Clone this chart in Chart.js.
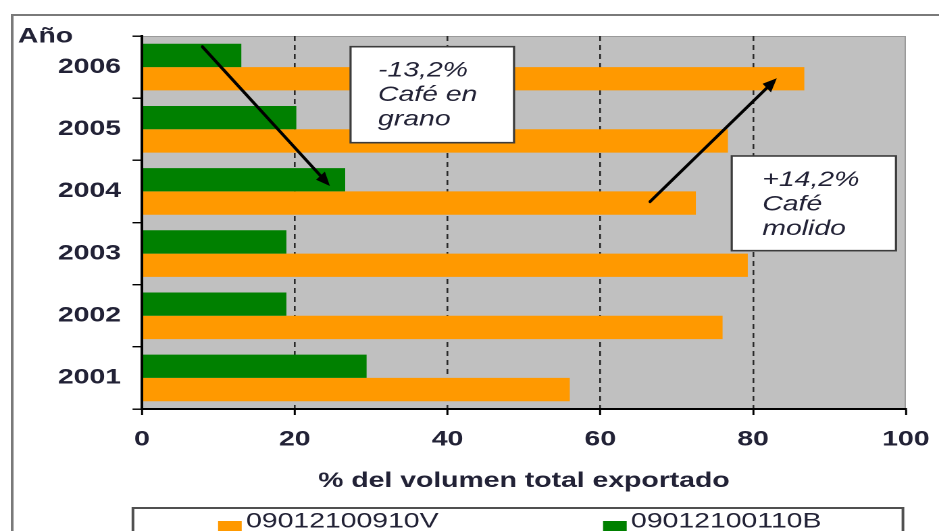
<!DOCTYPE html>
<html>
<head>
<meta charset="utf-8">
<script src="https://cdn.jsdelivr.net/npm/chart.js@4"></script>
<style>
  html, body { margin: 0; padding: 0; background: #ffffff; overflow: hidden; }
  /* the chart is laid out narrower and widened horizontally */
  #wrap { position: absolute; left: 0; top: 0; width: 695px; height: 531px;
          transform: scaleX(1.351079); transform-origin: 0 0; }
</style>
</head>
<body>
<div id="wrap"><canvas id="c"></canvas></div>
<script>
// Categories, top to bottom
const years = ['2006', '2005', '2004', '2003', '2002', '2001'];
// % of total exported volume
const granoShare = [13.0, 20.2, 26.6, 18.9, 18.9, 29.4];   // 09012100110B
const molidoShare = [86.7, 76.7, 72.5, 79.3, 76.0, 56.0];  // 09012100910V
const xTickValues = [0, 20, 40, 60, 80, 100];
const seriesNames = ['09012100910V', '09012100110B'];
const noteLines = [
  ['-13,2%', 'Café en', 'grano'],
  ['+14,2%', 'Café', 'molido']
];
const yAxisTitle = 'Año';
const xAxisTitle = '% del volumen total exportado';

const STRETCH = 939 / 695;
const FONT = '"Liberation Sans", Arial, sans-serif';
const TEXT = '#222236';
const ORANGE = '#ff9900';
const GREEN = '#008000';

// Callout boxes and arrows, in axis units (x: %, y: category index)
const noteBoxes = [
  { x0: 27.3, x1: 48.7, i0: -0.328, i1: 1.216, textX: 30.9 },
  { x0: 77.2, x1: 98.7, i0: 1.430, i1: 2.953, textX: 81.2 }
];
const arrows = [
  { x0: 7.9, i0: -0.328, x1: 24.6, i1: 1.913 },
  { x0: 66.5, i0: 2.165, x1: 83.1, i1: 0.180 }
];

const decor = {
  id: 'decor',
  beforeDraw(chart) {
    const { ctx, chartArea: a } = chart;
    ctx.save();
    ctx.fillStyle = '#ffffff';
    ctx.fillRect(0, 0, chart.width, chart.height);
    ctx.fillStyle = '#c0c0c0';
    ctx.fillRect(a.left, a.top, a.right - a.left, a.bottom - a.top);
    ctx.strokeStyle = '#9a9a9a';
    ctx.lineWidth = 1;
    ctx.beginPath();
    ctx.moveTo(a.left, a.top + 0.5);
    ctx.lineTo(a.right - 0.5, a.top + 0.5);
    ctx.lineTo(a.right - 0.5, a.bottom);
    ctx.stroke();
    // outer frame
    ctx.strokeStyle = '#7a7a7a';
    ctx.lineWidth = 2;
    ctx.strokeRect(9, 15, chart.width + 40, chart.height + 40);
    ctx.restore();
  },
  afterDatasetsDraw(chart) {
    const { ctx } = chart;
    const xs = chart.scales.x, ys = chart.scales.y;
    const px = v => xs.getPixelForValue(v);
    const py = i => ys.getPixelForValue(i);
    ctx.save();
    // callout boxes
    noteBoxes.forEach((b, k) => {
      const l = px(b.x0), r = px(b.x1), t = py(b.i0), btm = py(b.i1);
      ctx.fillStyle = '#ffffff';
      ctx.fillRect(l, t, r - l, btm - t);
      ctx.strokeStyle = '#3c3c3c';
      ctx.lineWidth = 1.6;
      ctx.strokeRect(l, t, r - l, btm - t);
      ctx.fillStyle = TEXT;
      ctx.font = 'italic 21px ' + FONT;
      ctx.textBaseline = 'middle';
      ctx.textAlign = 'left';
      noteLines[k].forEach((line, j) => {
        ctx.fillText(line, px(b.textX), t + 24 + j * 24.5);
      });
    });
    // arrows, drawn in unstretched units so heads keep their shape
    ctx.scale(1 / STRETCH, 1);
    arrows.forEach(a => {
      const x0 = px(a.x0) * STRETCH, y0 = py(a.i0);
      const x1 = px(a.x1) * STRETCH, y1 = py(a.i1);
      const ang = Math.atan2(y1 - y0, x1 - x0);
      const head = 14, half = 6;
      ctx.strokeStyle = '#000000';
      ctx.lineWidth = 3;
      ctx.lineCap = 'round';
      ctx.beginPath();
      ctx.moveTo(x0, y0);
      ctx.lineTo(x1 - Math.cos(ang) * head * 0.8, y1 - Math.sin(ang) * head * 0.8);
      ctx.stroke();
      ctx.fillStyle = '#000000';
      ctx.beginPath();
      ctx.moveTo(x1, y1);
      ctx.lineTo(x1 - Math.cos(ang) * head + Math.sin(ang) * half,
                 y1 - Math.sin(ang) * head - Math.cos(ang) * half);
      ctx.lineTo(x1 - Math.cos(ang) * head - Math.sin(ang) * half,
                 y1 - Math.sin(ang) * head + Math.cos(ang) * half);
      ctx.closePath();
      ctx.fill();
    });
    ctx.restore();
  },
  afterDraw(chart) {
    const { ctx, chartArea: a } = chart;
    ctx.save();
    // vertical axis caption
    ctx.fillStyle = TEXT;
    ctx.font = 'bold 21px ' + FONT;
    ctx.textAlign = 'left';
    ctx.textBaseline = 'alphabetic';
    ctx.fillText(yAxisTitle, 13.3, 42.5);
    // legend
    const left = a.left - 6.7, right = a.right - 2.2, top = 508;
    ctx.fillStyle = '#ffffff';
    ctx.fillRect(left, top, right - left, chart.height - top + 20);
    ctx.strokeStyle = '#505050';
    ctx.lineWidth = 2;
    ctx.strokeRect(left, top, right - left, chart.height - top + 20);
    const order = [1, 0];
    const slot = (right - left) / 2;
    order.forEach((di, k) => {
      const ds = chart.data.datasets[di];
      const sx = left + 63 + k * slot;
      ctx.fillStyle = ds.backgroundColor;
      ctx.fillRect(sx, 521, 17.5, 16);
      ctx.fillStyle = TEXT;
      ctx.font = '21px ' + FONT;
      ctx.fillText(ds.label, sx + 20.7, 527.5);
    });
    ctx.restore();
  }
};

new Chart(document.getElementById('c'), {
  type: 'bar',
  data: {
    labels: years,
    datasets: [
      { label: seriesNames[1], data: granoShare, backgroundColor: GREEN, borderWidth: 0,
        categoryPercentage: 0.75, barPercentage: 1.0 },
      { label: seriesNames[0], data: molidoShare, backgroundColor: ORANGE, borderWidth: 0,
        categoryPercentage: 0.75, barPercentage: 1.0 }
    ]
  },
  options: {
    indexAxis: 'y',
    responsive: true,
    maintainAspectRatio: false,
    animation: false,
    devicePixelRatio: 2,
    layout: { padding: { left: 0, right: 24.5, top: 36, bottom: 33 } },
    plugins: { legend: { display: false }, tooltip: { enabled: false } },
    scales: {
      x: {
        type: 'linear',
        min: xTickValues[0],
        max: xTickValues[xTickValues.length - 1],
        afterBuildTicks: scale => { scale.ticks = xTickValues.map(v => ({ value: v })); },
        afterFit: scale => {
          scale.height = 89;
          scale.paddingLeft = 0;
          scale.paddingRight = 0;
        },
        grid: {
          color: c => (c.tick && (c.tick.value === 0 || c.tick.value === 100)) ? 'rgba(0,0,0,0)' : '#2a2a2a',
          lineWidth: 1.3,
          tickColor: '#000000',
          tickLength: 6,
          tickWidth: 1.5,
          tickBorderDash: []
        },
        border: { display: true, color: '#000000', width: 2, dash: [5, 4], z: 1 },
        ticks: {
          color: TEXT,
          padding: 12,
          maxRotation: 0,
          font: { family: FONT, size: 21, weight: 'bold' }
        },
        title: {
          display: true,
          text: xAxisTitle,
          color: TEXT,
          padding: { top: 0, bottom: 4 },
          font: { family: FONT, size: 21, weight: 'bold' }
        }
      },
      y: {
        afterFit: scale => { scale.width = 105.1; },
        grid: {
          drawOnChartArea: false,
          drawTicks: true,
          tickLength: 7,
          color: '#000000',
          lineWidth: 1.4
        },
        border: { display: true, color: '#000000', width: 2, z: 1 },
        ticks: {
          color: TEXT,
          padding: 8.5,
          font: { family: FONT, size: 21, weight: 'bold' }
        }
      }
    }
  },
  plugins: [decor]
});
</script>
</body>
</html>
